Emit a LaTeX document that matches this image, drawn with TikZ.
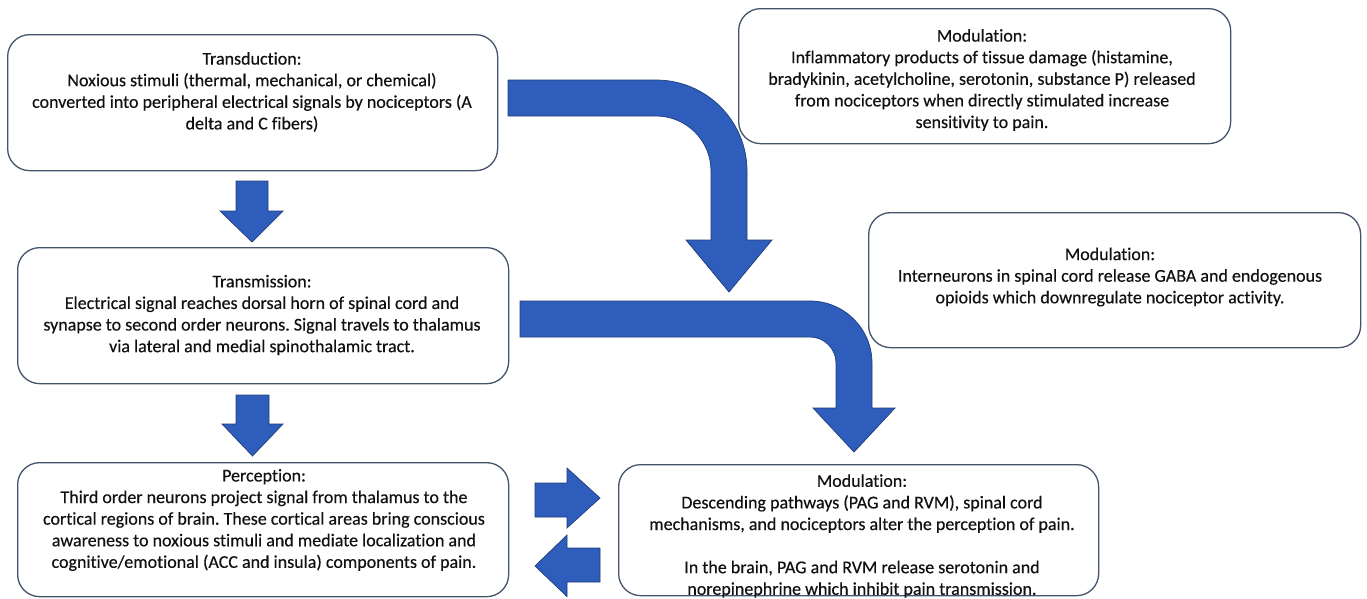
\documentclass[tikz,border=0pt]{standalone}
\usepackage{fontspec}
\setmainfont{Carlito}[Ligatures=NoCommon, FakeBold=0.35]
\definecolor{boxline}{HTML}{44546A}
\definecolor{arrowfill}{HTML}{2F5DBB}
\definecolor{arrowline}{HTML}{1F3D7A}
\definecolor{textcol}{HTML}{111111}
\frenchspacing
\begin{document}
\begin{tikzpicture}[x=1pt,y=-1pt,
  stagebox/.style={draw=boxline, line width=1.3pt, rounded corners=22pt, fill=white, anchor=north west, inner sep=0pt},
  stagetext/.style={align=center, font=\fontsize{18}{21.6}\selectfont, text=textcol, inner sep=0pt},
  blockarrow/.style={fill=arrowfill, draw=arrowline, line width=0.7pt, line join=miter}]
\useasboundingbox (0,0) rectangle (1367,598);
% boxes
\node[stagebox, minimum width=490pt, minimum height=136pt] (T) at (7,34) {};
\node[stagebox, minimum width=491pt, minimum height=136pt] (Tr) at (17,247) {};
\node[stagebox, minimum width=491pt, minimum height=134pt] (P) at (17,462) {};
\node[stagebox, minimum width=492pt, minimum height=135pt] (M1) at (738,8) {};
\node[stagebox, minimum width=492pt, minimum height=135pt] (M2) at (868,212) {};
\node[stagebox, minimum width=480pt, minimum height=131pt] (M3) at (618,464) {};
% texts
\node[stagetext] (Ttxt) at (252,92) {Transduction:\\Noxious stimuli (thermal, mechanical, or chemical)\\converted into peripheral electrical signals by nociceptors (A\\delta and C fibers)};
\node[stagetext] (Trtxt) at (262,315) {Transmission:\\Electrical signal reaches dorsal horn of spinal cord and\\synapse to second order neurons. Signal travels to thalamus\\via lateral and medial spinothalamic tract.};
\node[stagetext] (Ptxt) at (264,520) {Perception:\\Third order neurons project signal from thalamus to the\\cortical regions of brain. These cortical areas bring conscious\\awareness to noxious stimuli and mediate localization and\\cognitive/emotional (ACC and insula) components of pain.};
\node[stagetext] (M1txt) at (982,80) {Modulation:\\Inflammatory products of tissue damage (histamine,\\bradykinin, acetylcholine, serotonin, substance P) released\\from nociceptors when directly stimulated increase\\sensitivity to pain.};
\node[stagetext] (M2txt) at (1110,277) {Modulation:\\Interneurons in spinal cord release GABA and endogenous\\opioids which downregulate nociceptor activity.};
\node[stagetext] (M3txt) at (862,536) {Modulation:\\Descending pathways (PAG and RVM), spinal cord\\mechanisms, and nociceptors alter the perception of pain.\\[21.6pt]In the brain, PAG and RVM release serotonin and\\norepinephrine which inhibit pain transmission.};
% straight block arrows
\draw[blockarrow] (236,181) -- (268,181) -- (268,211) -- (283,211) -- (252,242) -- (220,211) -- (236,211) -- cycle;
\draw[blockarrow] (236,395) -- (269,395) -- (269,424) -- (283,424) -- (252.5,456) -- (222,424) -- (236,424) -- cycle;
\draw[blockarrow] (535,483) -- (567,483) -- (567,468) -- (600,498) -- (567,528) -- (567,517) -- (535,517) -- cycle;
\draw[blockarrow] (600,548) -- (567,548) -- (567,535) -- (535,566) -- (567,596.5) -- (567,582) -- (600,582) -- cycle;
% bent block arrows
\draw[blockarrow] (508,80) -- (656,80) .. controls (706.26,80) and (747,120.74) .. (747,171) -- (747,240) -- (772,240) -- (729,292) -- (686,240) -- (711,240) -- (711,171) .. controls (711,140.62) and (686.38,116) .. (656,116) -- (508,116) -- cycle;
\draw[blockarrow] (520,301) -- (810,301) .. controls (844.24,301) and (872,328.76) .. (872,363) -- (872,408) -- (895,408) -- (854,452) -- (813,408) -- (836,408) -- (836,363) .. controls (836,348.64) and (824.36,337) .. (810,337) -- (520,337) -- cycle;
\end{tikzpicture}
\end{document}
